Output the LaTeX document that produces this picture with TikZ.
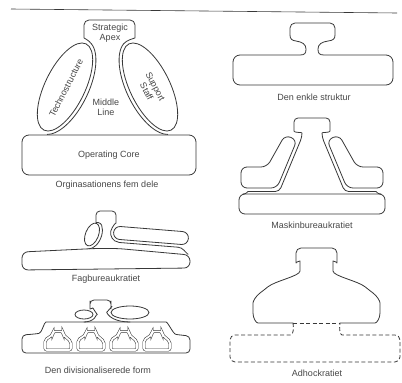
\documentclass[tikz,border=0pt]{standalone}
\usepackage{fontspec}
\setmainfont{Liberation Sans}
\definecolor{linec}{gray}{0.22}
\definecolor{textc}{gray}{0.28}
\tikzset{
  ln/.style={draw=linec,line width=0.8pt,line join=round,line cap=round},
  dsh/.style={draw=linec,line width=0.8pt,dash pattern=on 4pt off 2.5pt},
  lbl/.style={text=textc,font=\fontsize{9}{10}\selectfont,inner sep=0pt},
  divunit/.pic={\draw[draw=linec,line width=0.55pt,double=white,double distance=1.8pt,rounded corners=2]
     (-5,18.5) -- (5,18.5) -- (5,15.5) -- (13,8.5) -- (13,0) -- (-13,0) -- (-13,10) -- (-5,15.5) -- cycle;}
}
\begin{document}
\begin{tikzpicture}[x=1pt,y=1pt]
\useasboundingbox (0,0) rectangle (402,-383);
\fill[white] (0,0) rectangle (402,-383);
% top rule
\draw[draw=linec,line width=0.6pt] (11,-9) -- (397,-13);

% ===== Figure 1: Orginasationens fem dele =====
\draw[ln,rounded corners=7] (22,-135) rectangle (196,-175);
\draw[ln,rotate around={64:(65,-87)}] (65,-87) ellipse[x radius=48,y radius=20];
\draw[ln,rotate around={116:(150,-87)}] (150,-87) ellipse[x radius=48,y radius=20];
\begin{scope}[shift={(65,-87)},rotate=64]
  \coordinate (tn) at (-12:51.5 and 23.5);
  \draw[ln] (-12:51.5 and 23.5) arc[start angle=-12,end angle=-168,x radius=51.5,y radius=23.5];
\end{scope}
\begin{scope}[shift={(150,-87)},rotate=116]
  \coordinate (sn) at (12:51.5 and 23.5);
  \draw[ln] (12:51.5 and 23.5) arc[start angle=12,end angle=168,x radius=51.5,y radius=23.5];
\end{scope}
\draw[ln,rounded corners=5] (tn) .. controls (88.5,-40) and (84,-38) .. (84,-33) -- (84,-20) -- (135,-20) -- (135,-33) .. controls (135,-38) and (126.5,-40) .. (sn);
\node[lbl,align=center] (apex) at (110,-33) {Strategic\\Apex};
\node[lbl,rotate=63] (techno) at (66,-88) {Technostructure};
\node[lbl,align=center,rotate=-62] (support) at (151,-89) {Support\\Staff};
\node[lbl,align=center] (middle) at (106,-107) {Middle\\Line};
\node[lbl] (core) at (109,-155) {Operating Core};
\node[lbl] (cap1) at (107,-185) {Orginasationens fem dele};

% ===== Figure 2: Den enkle struktur =====
\draw[ln] (300,-55) -- (240,-55) arc[start angle=90,end angle=180,radius=7] -- (233,-78)
  arc[start angle=180,end angle=270,radius=7] -- (386,-85) arc[start angle=270,end angle=360,radius=7]
  -- (393,-62) arc[start angle=0,end angle=90,radius=7] -- (324,-55)
  .. controls (319,-55) and (318,-53) .. (318,-49) .. controls (318,-44) and (322,-42) .. (328,-41)
  .. controls (333,-40.5) and (335,-39) .. (335,-35) -- (335,-28) arc[start angle=0,end angle=90,radius=5]
  -- (295,-23) arc[start angle=90,end angle=180,radius=5] -- (290,-35)
  .. controls (290,-39) and (292,-40.5) .. (296,-41) .. controls (302,-42) and (306,-44) .. (306,-49)
  .. controls (306,-53) and (305,-55) .. (300,-55) -- cycle;
\node[lbl] (cap2) at (314,-97) {Den enkle struktur};

% ===== Figure 3: Maskinbureaukratiet =====
\draw[ln,rounded corners=6] (239,-194) rectangle (385,-214);
\draw[ln,rounded corners=6] (285,-135) -- (297,-140) -- (277,-188) -- (241,-188) -- (241,-167) -- (267,-167) -- cycle;
\draw[ln,rounded corners=6] (339,-135) -- (327,-140) -- (347,-188) -- (383,-188) -- (383,-167) -- (357,-167) -- cycle;
\draw[ln,rounded corners=4] (243,-194) .. controls (247,-194) and (247,-191.5) .. (252,-191.5) -- (279.3,-191.5) -- (302,-137)
  .. controls (302,-132) and (294,-133) .. (294,-127) -- (294,-118) -- (330,-118) -- (330,-127)
  .. controls (330,-133) and (322,-132) .. (322,-137) -- (344.7,-191.5) -- (372,-191.5) .. controls (377,-191.5) and (377,-194) .. (381,-194);
\node[lbl] (cap3) at (312,-225) {Maskinbureaukratiet};

% ===== Figure 4: Fagbureaukratiet =====
\draw[ln,rounded corners=6] (95,-248.5) -- (22,-252) -- (22,-270) -- (190,-268) -- (190,-255) -- (118,-248.5) -- cycle;
\draw[ln,rotate around={-22:(92,-234.5)}] (92,-234.5) ellipse[x radius=6.5,y radius=12];
\begin{scope}[shift={(92,-234.5)},rotate=-22]
  \coordinate (fl) at (55:9.5 and 15);
  \draw[ln] (55:9.5 and 15) arc[start angle=55,end angle=-75.6,x radius=9.5,y radius=15];
\end{scope}
\begin{scope}[shift={(151,-235.5)},rotate=-4.6]
  \draw[ln,rounded corners=6.4] (-37.5,-6.5) rectangle (37.5,6.5);
  \coordinate (fr) at (-39.23,4.75);
  \coordinate (fe) at (28,-9.5);
  \draw[ln] (-39.23,4.75) arc[start angle=150,end angle=270,radius=9.5] -- (28,-9.5);
\end{scope}
\draw[ln] (fe) .. controls (183,-247.6) and (185,-252) .. (188,-254.3);
\draw[ln,rounded corners=4] (fl) .. controls (100.6,-222.3) and (96,-222) .. (96,-219) -- (96,-211) -- (116,-211) -- (116,-219) .. controls (116,-223) and (113,-225) .. (fr);
\node[lbl] (cap4) at (106,-279) {Fagbureaukratiet};

% ===== Figure 5: Den divisionaliserede form =====
\draw[ln,rounded corners=4] (50,-322) .. controls (44,-322) and (42,-333) .. (35,-334) -- (22,-335) -- (22,-353)
  -- (190,-353) -- (190,-336) -- (180,-335) .. controls (173,-334) and (168,-322) .. (162,-322) -- cycle;
\draw[ln] (84,-314.5) ellipse[x radius=9,y radius=4.5];
\draw[ln] (130,-312.5) ellipse[x radius=19,y radius=6.5];
\draw[ln,rounded corners=4] (84,-322) arc[start angle=-90,end angle=25,x radius=12,y radius=7.5]
  .. controls (93.5,-309) and (90,-308) .. (90,-305) -- (90,-300) -- (111,-300) -- (111,-305)
  .. controls (111,-307.5) and (110.5,-308) .. (109.33,-309.25)
  arc[start angle=160,end angle=270,x radius=22,y radius=9.5];
\pic at (58,-350) {divunit};
\pic at (91,-350) {divunit};
\pic at (124,-350) {divunit};
\pic at (157,-350) {divunit};
\node[lbl] (cap5) at (98,-370) {Den divisionaliserede form};

% ===== Figure 6: Adhockratiet =====
\draw[ln,rounded corners=5] (293,-323) -- (263,-323) .. controls (256,-323) and (253,-318) .. (253,-308)
  .. controls (253,-301) and (256,-296) .. (264,-290) .. controls (275,-281) and (300,-276) .. (300,-266)
  .. controls (300,-261) and (296,-262) .. (296,-258) -- (296,-248) -- (337,-248) -- (337,-258)
  .. controls (337,-262) and (333,-261) .. (333,-266) .. controls (333,-276) and (358,-281) .. (369,-290)
  .. controls (377,-296) and (380,-301) .. (380,-308) .. controls (380,-318) and (377,-323) .. (370,-323) -- (340,-323);
\draw[dsh] (293,-323) -- (340,-323);
\draw[dsh,rounded corners=5] (293,-323) .. controls (294,-328) and (293,-335) .. (286,-335) -- (230,-335) -- (230,-362)
  -- (400,-362) -- (400,-335) -- (347,-335) .. controls (340,-335) and (339,-328) .. (340,-323);
\node[lbl] (cap6) at (317,-373) {Adhockratiet};
\end{tikzpicture}
\end{document}
